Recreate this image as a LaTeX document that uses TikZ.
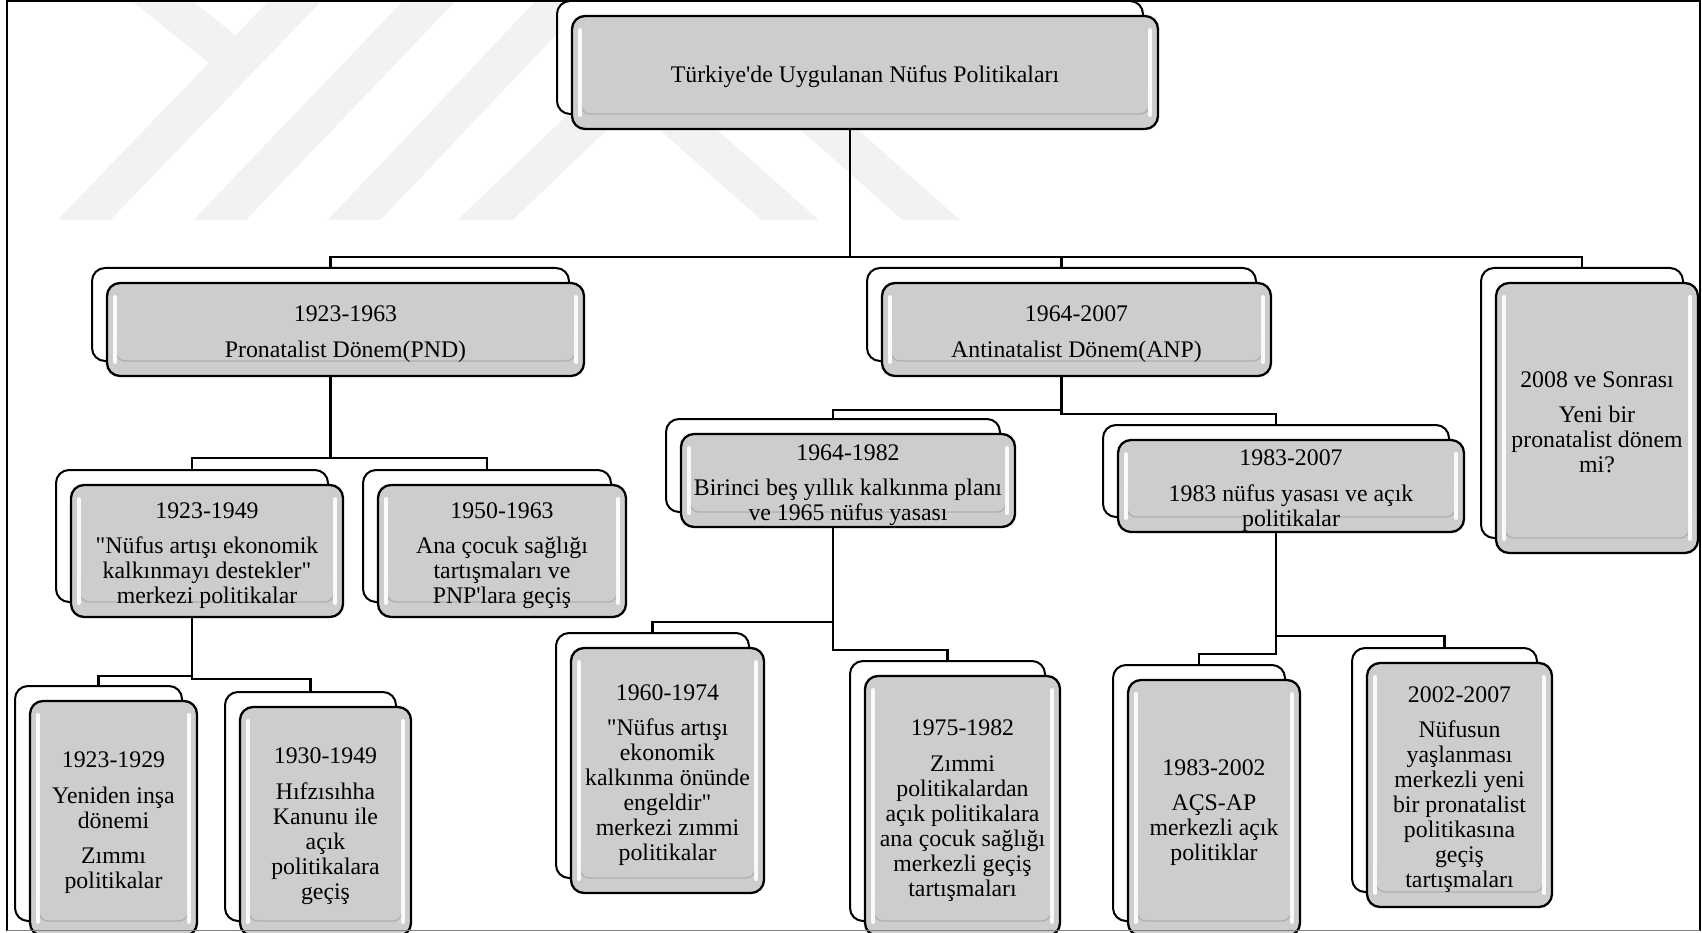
\documentclass[tikz,border=0pt]{standalone}
\usepackage{fontspec}
\setmainfont{Liberation Serif}
\usetikzlibrary{calc}
\definecolor{boxgray}{RGB}{205,205,205}
\definecolor{wmgray}{RGB}{242,242,242}
\definecolor{bevelgray}{RGB}{175,175,175}
\pgfdeclarelayer{wm}
\pgfdeclarelayer{bg}
\pgfsetlayers{wm,bg,main}
\tikzset{
  backbox/.style={draw=black, line width=2pt, fill=white, rounded corners=13pt, inner sep=0pt},
  frontbox/.style={draw=black, line width=2.3pt, fill=boxgray, rounded corners=13pt, inner sep=0pt,
    path picture={
      \draw[bevelgray, line width=1.3pt, rounded corners=9pt]
        ([xshift=9pt,yshift=42pt]path picture bounding box.south west) --
        ([xshift=9pt,yshift=15pt]path picture bounding box.south west) --
        ([xshift=-9pt,yshift=15pt]path picture bounding box.south east) --
        ([xshift=-9pt,yshift=42pt]path picture bounding box.south east);
      \draw[white, line width=4pt, line cap=round, opacity=.9]
        ([xshift=8pt,yshift=-14pt]path picture bounding box.north west) --
        ([xshift=8pt,yshift=14pt]path picture bounding box.south west);
      \draw[white, line width=4pt, line cap=round, opacity=.9]
        ([xshift=-8pt,yshift=-14pt]path picture bounding box.north east) --
        ([xshift=-8pt,yshift=14pt]path picture bounding box.south east);
    }},
  boxtext/.style={inner sep=0pt, align=center, font=\fontsize{23.8}{25}\selectfont},
  conn/.style={draw=black, line width=2.6pt},
  wmstroke/.style={draw=wmgray, line width=38pt}
}
\newcommand\mkbox[6]{%
  \node[backbox, minimum width={(#4)-(#2)}, minimum height={(#5)-(#3)}] (#1B)
    at ({((#2)+(#4))/2-15},{((#3)+(#5))/2-15}) {};
  \node[frontbox, minimum width={(#4)-(#2)}, minimum height={(#5)-(#3)}] (#1)
    at ({((#2)+(#4))/2},{((#3)+(#5))/2}) {};
  \node[boxtext] (#1T) at ($(#1.center)+(0,4.5)$) {#6};
}
\newcommand\pg{\\[10.5pt]}
\newcommand\qq{\textquotedbl}
\begin{document}
\begin{tikzpicture}[x=1pt,y=-1pt]
\useasboundingbox (0,0) rectangle (1702,933);

% watermark
\begin{pgfonlayer}{wm}
\fill[white] (0,0) rectangle (1702,933);
\begin{scope}
\clip (0,0) rectangle (1702,220);
\draw[wmstroke] (124,-30) -- (238,62);
\draw[wmstroke] (325,-30) -- (55,250);
\draw[wmstroke] (459,-30) -- (191,250);
\draw[wmstroke] (591.5,-30) -- (325.5,250);
\draw[wmstroke, line join=miter] (453.5,250) -- (700,15) -- (965,250);
\draw[wmstroke] (632,80) -- (824,250);
\end{scope}
\end{pgfonlayer}

% bus coordinates
\coordinate (b0) at (0,257);
\coordinate (bP) at (0,458);
\coordinate (bA1) at (0,410);
\coordinate (bA2) at (0,414);
\coordinate (bL1) at (0,676);
\coordinate (bL2) at (0,679);
\coordinate (bM1) at (0,622);
\coordinate (bM2) at (0,650);
\coordinate (bR1) at (0,654);
\coordinate (bR2) at (0,636);

% boxes
\mkbox{top}{572}{16}{1158}{129}{Türkiye\textquotesingle de Uygulanan Nüfus Politikaları}
\mkbox{pnd}{107}{283}{584}{376}{1923-1963\pg Pronatalist Dönem(PND)}
\mkbox{anp}{882}{283}{1271}{376}{1964-2007\pg Antinatalist Dönem(ANP)}
\mkbox{sek}{1496}{283}{1698}{553}{2008 ve Sonrası\pg Yeni bir\\ pronatalist dönem\\ mi?}
\mkbox{ca}{71}{485}{343}{617}{1923-1949\pg \qq Nüfus artışı ekonomik\\ kalkınmayı destekler\qq\\ merkezi politikalar}
\mkbox{cb}{378}{485}{626}{617}{1950-1963\pg Ana çocuk sağlığı\\ tartışmaları ve\\ PNP\textquotesingle lara geçiş}
\mkbox{cc}{681}{434}{1015}{527}{1964-1982\pg Birinci beş yıllık kalkınma planı\\ ve 1965 nüfus yasası}
\mkbox{cd}{1118}{440}{1464}{532}{1983-2007\pg 1983 nüfus yasası ve açık\\ politikalar}
\mkbox{da}{30}{701}{197}{936}{1923-1929\pg Yeniden inşa\\ dönemi\pg Zımmı\\ politikalar}
\mkbox{db}{240}{707}{411}{936}{1930-1949\pg Hıfzısıhha\\ Kanunu ile\\ açık\\ politikalara\\ geçiş}
\mkbox{dc}{571}{648}{764}{893}{1960-1974\pg \qq Nüfus artışı\\ ekonomik\\ kalkınma önünde\\ engeldir\qq\\ merkezi zımmi\\ politikalar}
\mkbox{dd}{865}{676}{1060}{936}{1975-1982\pg Zımmi\\ politikalardan\\ açık politikalara\\ ana çocuk sağlığı\\ merkezli geçiş\\ tartışmaları}
\mkbox{de}{1128}{680}{1300}{936}{1983-2002\pg AÇS-AP\\ merkezli açık\\ politiklar}
\mkbox{df}{1367}{663}{1552}{907}{2002-2007\pg Nüfusun\\ yaşlanması\\ merkezli yeni\\ bir pronatalist\\ politikasına\\ geçiş\\ tartışmaları}

% connectors
\begin{pgfonlayer}{bg}
\draw[conn] (topB.south) -- (topB.south |- b0);
\draw[conn] (pndB.north) -- (pndB.north |- b0) -- (sekB.north |- b0) -- (sekB.north);
\draw[conn] (anpB.north) -- (anpB.north |- b0);
\draw[conn] (pndB.south) -- (pndB.south |- bP);
\draw[conn] (caB.north) -- (caB.north |- bP) -- (cbB.north |- bP) -- (cbB.north);
\draw[conn] (anpB.south) -- (anpB.south |- bA2) -- (cdB.north |- bA2) -- (cdB.north);
\draw[conn] (anpB.south |- bA1) -- (ccB.north |- bA1) -- (ccB.north);
\draw[conn] (caB.south) -- (caB.south |- bL2) -- (dbB.north |- bL2) -- (dbB.north);
\draw[conn] (caB.south |- bL1) -- (daB.north |- bL1) -- (daB.north);
\draw[conn] (ccB.south) -- (ccB.south |- bM2) -- (ddB.north |- bM2) -- (ddB.north);
\draw[conn] (ccB.south |- bM1) -- (dcB.north |- bM1) -- (dcB.north);
\draw[conn] (cdB.south) -- (cdB.south |- bR1) -- (deB.north |- bR1) -- (deB.north);
\draw[conn] (cdB.south |- bR2) -- (dfB.north |- bR2) -- (dfB.north);
\end{pgfonlayer}

% outer frame
\draw[black, line width=1.6pt] (7,931) -- (7,1) -- (1700,1) -- (1700,931);
\draw[gray, line width=1.6pt] (7,930.5) -- (1700,930.5);
\end{tikzpicture}
\end{document}
